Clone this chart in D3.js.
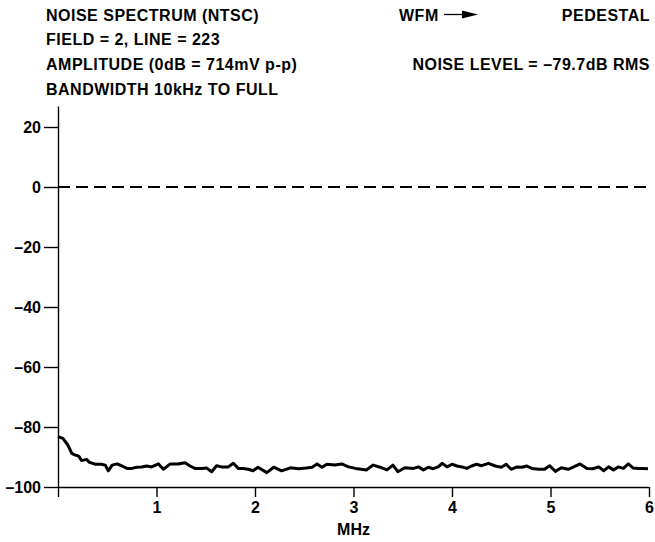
<!DOCTYPE html>
<html>
<head>
<meta charset="utf-8">
<script src="https://cdn.jsdelivr.net/npm/d3@7"></script>
<style>
  body { margin: 0; background: #fff; }
  svg text { font-family: "Liberation Sans", Arial, sans-serif; font-weight: bold; fill: #000; }
</style>
</head>
<body>
<svg id="chart"></svg>
<script>
// noise spectrum, frequency in MHz and level in dB
let freqs = [0.00, 0.05, 0.10, 0.14, 0.17, 0.21, 0.24, 0.29, 0.32, 0.38, 0.44, 0.48, 0.51, 0.55, 0.60, 0.65, 0.70, 0.75, 0.80, 0.85, 0.90, 0.95, 1.02,
  1.07, 1.14, 1.22, 1.29, 1.34, 1.39, 1.46, 1.51, 1.56, 1.61, 1.66, 1.73, 1.78, 1.83, 1.88, 1.93, 1.98, 2.03,
  2.12, 2.19, 2.27, 2.36, 2.44, 2.52, 2.58, 2.63, 2.68, 2.73, 2.81, 2.88, 2.95, 3.02,
  3.08, 3.13, 3.20, 3.27, 3.34, 3.40, 3.45, 3.52, 3.61, 3.66, 3.71, 3.76, 3.81, 3.86, 3.90, 3.95, 4.00, 4.05,
  4.10, 4.15, 4.20, 4.25, 4.30, 4.37, 4.44, 4.50, 4.55, 4.60, 4.66, 4.71, 4.76, 4.81, 4.88, 4.94, 4.99, 5.05,
  5.11, 5.18, 5.23, 5.30, 5.37, 5.43, 5.49, 5.54, 5.59, 5.64, 5.69, 5.74, 5.79, 5.84, 5.89, 5.94, 5.99]
let levels = [-83.2, -83.8, -86.0, -88.8, -89.3, -89.7, -91.2, -90.8, -91.8, -92.4, -92.4, -92.7, -94.6, -92.7, -92.3, -93.0, -93.8, -93.8, -93.4, -93.3, -93.0, -93.3, -92.3,
  -94.1, -92.3, -92.3, -91.9, -93.0, -93.8, -93.8, -93.7, -94.9, -92.9, -93.3, -93.3, -92.1, -93.8, -93.8, -94.1, -94.6, -93.4,
  -95.2, -93.4, -94.6, -93.6, -93.9, -93.7, -93.4, -92.3, -93.4, -92.4, -92.7, -92.3, -93.3, -93.8,
  -94.1, -94.3, -92.7, -93.4, -94.3, -92.7, -94.9, -93.6, -93.8, -93.3, -94.3, -93.4, -93.9, -93.3, -92.1, -93.3, -92.4, -93.0,
  -93.3, -93.8, -93.0, -92.4, -92.9, -92.1, -93.0, -93.4, -92.4, -94.1, -93.3, -93.4, -93.0, -93.8, -94.1, -94.1, -92.9, -94.8,
  -93.6, -94.1, -93.4, -92.3, -93.8, -93.9, -93.3, -94.6, -93.3, -94.3, -93.3, -93.8, -92.3, -93.7, -93.8, -93.8, -93.9]

let xTicks = [0, 1, 2, 3, 4, 5, 6]
let yTicks = [20, 0, -20, -40, -60, -80, -100]
let referenceLevel = 0

let headerLeft = ['NOISE SPECTRUM (NTSC)', 'FIELD = 2, LINE = 223', 'AMPLITUDE (0dB = 714mV p-p)', 'BANDWIDTH 10kHz TO FULL']

const widthSVG = 655
const heightSVG = 542
const fontSize = 16

let svg = d3.select('#chart')
    .attr('width', widthSVG)
    .attr('height', heightSVG)

let xScale = d3.scaleLinear()
    .domain([0, 6])
    .range([58, 649])

let yScale = d3.scaleLinear()
    .domain([-100, 27])
    .range([487, 106])

// header texts
svg.selectAll('.head')
   .data(headerLeft)
   .enter()
   .append('text')
   .attr('class', 'head')
   .attr('x', 46)
   .attr('y', (d, i) => 20.5 + i * 24.8)
   .style('font-size', fontSize + 'px')
   .style('letter-spacing', '0.5px')
   .text(d => d)

svg.append('text')
   .attr('x', 399).attr('y', 20.5)
   .style('font-size', fontSize + 'px')
   .style('letter-spacing', '0.5px')
   .text('WFM')

svg.append('line')
   .attr('x1', 444).attr('x2', 464)
   .attr('y1', 14.5).attr('y2', 14.5)
   .attr('stroke', '#000').attr('stroke-width', 1.3)
svg.append('path')
   .attr('d', 'M462,10.5 L478,14.5 L462,18.5 Z')
   .attr('fill', '#000')

svg.append('text')
   .attr('x', 650).attr('y', 20.5)
   .attr('text-anchor', 'end')
   .style('font-size', fontSize + 'px')
   .style('letter-spacing', '0.5px')
   .text('PEDESTAL')

svg.append('text')
   .attr('x', 650).attr('y', 70)
   .attr('text-anchor', 'end')
   .style('font-size', fontSize + 'px')
   .style('letter-spacing', '0.5px')
   .text('NOISE LEVEL = \u201379.7dB RMS')

// axes
let xAxis = d3.axisBottom(xScale)
    .tickValues(xTicks)
    .tickSize(10)
    .tickSizeOuter(0)
    .tickPadding(5)
    .tickFormat(d => d === 0 ? '' : d)

let yAxis = d3.axisLeft(yScale)
    .tickValues(yTicks)
    .tickSize(14)
    .tickSizeOuter(0)
    .tickPadding(3)
    .tickFormat(d => d < 0 ? '\u2013' + Math.abs(d) : d)

let gx = svg.append('g')
   .attr('id', 'x-axis')
   .attr('transform', 'translate(0,' + yScale(-100) + ')')
   .call(xAxis)

let gy = svg.append('g')
   .attr('id', 'y-axis')
   .attr('transform', 'translate(' + xScale(0) + ',0)')
   .call(yAxis)

svg.selectAll('.domain, .tick line')
   .attr('stroke', '#000')
   .attr('stroke-width', 1.4)

svg.selectAll('.tick text')
   .style('font-size', fontSize + 'px')
   .style('font-family', '"Liberation Sans", Arial, sans-serif')
   .style('font-weight', 'bold')

svg.append('text')
   .attr('x', xScale(3))
   .attr('y', 535)
   .attr('text-anchor', 'middle')
   .style('font-size', fontSize + 'px')
   .text('MHz')

// 0dB reference
svg.append('line')
   .attr('x1', xScale(0)).attr('x2', xScale(6))
   .attr('y1', yScale(referenceLevel)).attr('y2', yScale(referenceLevel))
   .attr('stroke', '#000')
   .attr('stroke-width', 2)
   .attr('stroke-dasharray', '12,6')

// spectrum trace
let line = d3.line()
    .x((d, i) => xScale(freqs[i]))
    .y(d => yScale(d))

svg.append('path')
   .datum(levels)
   .attr('d', line)
   .attr('fill', 'none')
   .attr('stroke', '#000')
   .attr('stroke-width', 3)
   .attr('stroke-linejoin', 'round')
</script>
</body>
</html>
